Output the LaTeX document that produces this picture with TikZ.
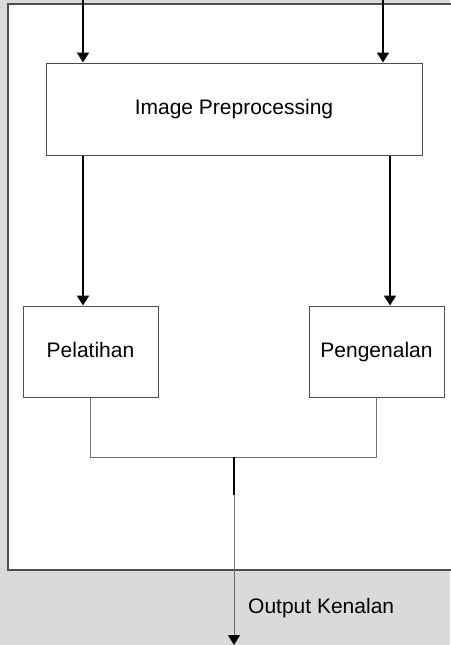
\documentclass[tikz,border=0pt]{standalone}
\usepackage{fontspec}
\setmainfont{Liberation Sans}
\usetikzlibrary{arrows.meta}
\definecolor{wmgray}{HTML}{DADADA}
\definecolor{framegray}{HTML}{4D4D4D}
\definecolor{linegray}{HTML}{707070}

\begin{document}
\begin{tikzpicture}[x=1pt,y=-1pt,>={Triangle[length=10pt,width=12pt,color=black]},
  every node/.style={font=\fontsize{21}{25}\selectfont,text height=15pt,text depth=4pt},
  block/.style={draw=framegray,line width=1pt,fill=white,inner sep=0pt},
  flow/.style={->,line width=2pt},
  wire/.style={draw=linegray,line width=1pt}]
  \useasboundingbox (0,0) rectangle (450,645);
  \fill[wmgray] (0,0) rectangle (450,645);
  \draw[framegray,line width=1.5pt,fill=white] (8,4) rectangle (480,570);

  \node[block,minimum width=376pt,minimum height=92pt] (prep) at (234,109) {Image Preprocessing};
  \node[block,minimum width=135pt,minimum height=91pt] (pel) at (90.5,351.5) {Pelatihan};
  \node[block,minimum width=135pt,minimum height=91pt] (pen) at (376.5,351.5) {Pengenalan};
  \node[anchor=west,inner sep=0pt] (outlbl) at (248,608) {Output Kenalan};

  \coordinate (inL) at (83,0);
  \coordinate (inR) at (383,0);
  \coordinate (colR) at (390,0);
  \coordinate (join) at (234,457);
  \coordinate (tap) at (234,495);
  \coordinate (out) at (234,645);

  \draw[flow] (inL) -- (inL |- prep.north);
  \draw[flow] (inR) -- (inR |- prep.north);
  \draw[flow] (prep.south -| inL) -- (inL |- pel.north);
  \draw[flow] (prep.south -| colR) -- (colR |- pen.north);

  \draw[wire] (pel.south) -- (pel.south |- join) -- (pen.south |- join) -- (pen.south);
  \draw[line width=2pt] (join) -- (tap);
  \draw[wire,->] (tap) -- (out);
\end{tikzpicture}
\end{document}
